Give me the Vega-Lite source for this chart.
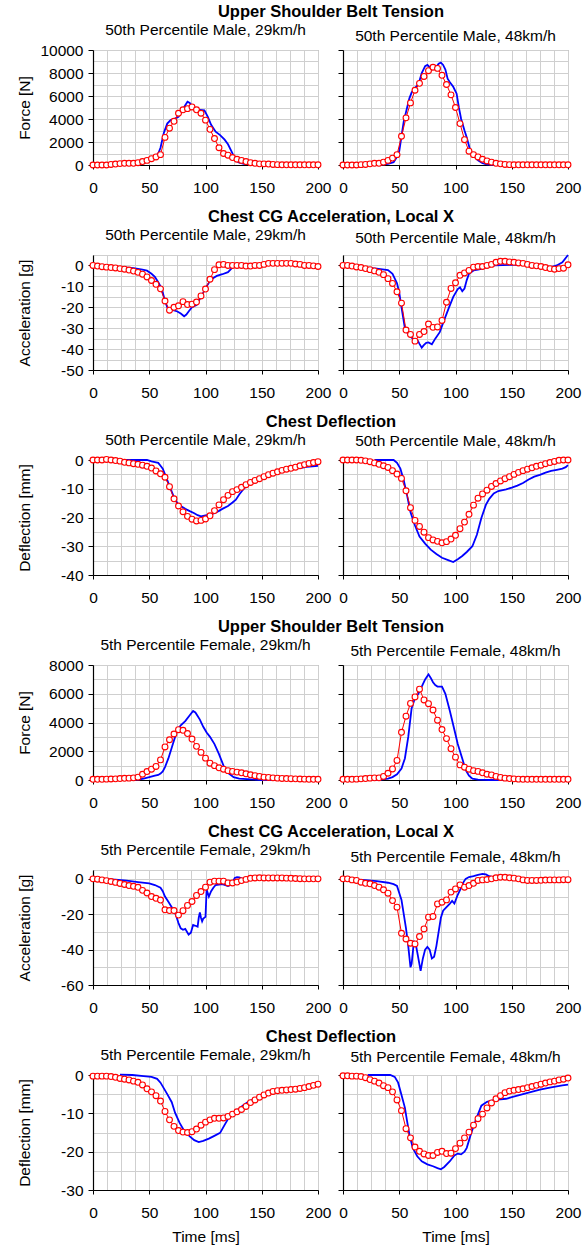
{
"$schema": "https://vega.github.io/schema/vega-lite/v6.json",
"padding": {"left": 16, "top": 3, "right": 4, "bottom": 2},
"datasets": {
"r1aT": [{"t":0,"v":0},{"t":20,"v":0},{"t":40,"v":50},{"t":50,"v":300},{"t":55,"v":700},{"t":58,"v":1000},{"t":60,"v":1500},{"t":63,"v":2800},{"t":66,"v":3600},{"t":69,"v":3900},{"t":72,"v":4000},{"t":76,"v":4200},{"t":79,"v":4700},{"t":82,"v":5200},{"t":84,"v":5500},{"t":86,"v":5400},{"t":89,"v":5000},{"t":91,"v":4800},{"t":95,"v":4800},{"t":99,"v":4750},{"t":102,"v":4200},{"t":105,"v":3500},{"t":109,"v":2900},{"t":113,"v":2600},{"t":117,"v":2200},{"t":120,"v":1800},{"t":123,"v":1200},{"t":126,"v":600},{"t":129,"v":250},{"t":134,"v":100},{"t":140,"v":50},{"t":150,"v":0},{"t":200,"v":0}],
"r1aS": [{"t":0,"v":0},{"t":4,"v":0},{"t":8,"v":0},{"t":12,"v":0},{"t":16,"v":50},{"t":20,"v":80},{"t":24,"v":120},{"t":28,"v":150},{"t":32,"v":150},{"t":36,"v":150},{"t":40,"v":200},{"t":44,"v":300},{"t":48,"v":400},{"t":52,"v":550},{"t":56,"v":700},{"t":60,"v":900},{"t":64,"v":2400},{"t":68,"v":3200},{"t":72,"v":3800},{"t":76,"v":4500},{"t":80,"v":4800},{"t":84,"v":4900},{"t":88,"v":5050},{"t":92,"v":4800},{"t":96,"v":4500},{"t":100,"v":3900},{"t":104,"v":3100},{"t":108,"v":2300},{"t":112,"v":1500},{"t":116,"v":1000},{"t":120,"v":850},{"t":124,"v":650},{"t":128,"v":500},{"t":132,"v":400},{"t":136,"v":300},{"t":140,"v":200},{"t":144,"v":150},{"t":148,"v":100},{"t":152,"v":100},{"t":156,"v":80},{"t":160,"v":50},{"t":164,"v":30},{"t":168,"v":20},{"t":172,"v":20},{"t":176,"v":20},{"t":180,"v":20},{"t":184,"v":20},{"t":188,"v":20},{"t":192,"v":20},{"t":196,"v":20},{"t":200,"v":20}],
"r1bT": [{"t":0,"v":0},{"t":30,"v":0},{"t":40,"v":100},{"t":45,"v":250},{"t":48,"v":700},{"t":50,"v":1200},{"t":52,"v":2500},{"t":54,"v":3800},{"t":57,"v":5000},{"t":59,"v":5800},{"t":61,"v":6300},{"t":64,"v":6700},{"t":67,"v":7000},{"t":70,"v":8000},{"t":73,"v":8600},{"t":75,"v":8700},{"t":77,"v":8500},{"t":79,"v":8300},{"t":82,"v":8400},{"t":85,"v":8800},{"t":87,"v":8900},{"t":89,"v":8700},{"t":91,"v":8300},{"t":93,"v":7500},{"t":95,"v":7200},{"t":98,"v":6800},{"t":101,"v":6200},{"t":103,"v":5000},{"t":105,"v":4000},{"t":108,"v":3000},{"t":110,"v":2400},{"t":113,"v":1300},{"t":116,"v":800},{"t":120,"v":400},{"t":124,"v":150},{"t":128,"v":50},{"t":135,"v":0},{"t":200,"v":0}],
"r1bS": [{"t":0,"v":0},{"t":4,"v":0},{"t":8,"v":0},{"t":12,"v":0},{"t":16,"v":30},{"t":20,"v":50},{"t":24,"v":100},{"t":28,"v":150},{"t":32,"v":150},{"t":36,"v":250},{"t":40,"v":400},{"t":44,"v":600},{"t":48,"v":900},{"t":52,"v":2500},{"t":56,"v":4100},{"t":60,"v":5400},{"t":64,"v":6500},{"t":68,"v":7100},{"t":72,"v":7700},{"t":76,"v":8200},{"t":80,"v":8500},{"t":84,"v":8400},{"t":88,"v":7800},{"t":92,"v":7000},{"t":96,"v":6100},{"t":100,"v":5000},{"t":104,"v":3600},{"t":108,"v":2200},{"t":112,"v":1200},{"t":116,"v":900},{"t":120,"v":700},{"t":124,"v":500},{"t":128,"v":350},{"t":132,"v":250},{"t":136,"v":150},{"t":140,"v":100},{"t":144,"v":50},{"t":148,"v":30},{"t":152,"v":20},{"t":156,"v":20},{"t":160,"v":20},{"t":164,"v":20},{"t":168,"v":20},{"t":172,"v":20},{"t":176,"v":20},{"t":180,"v":20},{"t":184,"v":20},{"t":188,"v":20},{"t":192,"v":20},{"t":196,"v":20},{"t":200,"v":20}],
"r2aT": [{"t":0,"v":0},{"t":10,"v":-0.3},{"t":20,"v":-0.6},{"t":30,"v":-1},{"t":36,"v":-1.3},{"t":40,"v":-1.6},{"t":44,"v":-2},{"t":48,"v":-2.5},{"t":52,"v":-4},{"t":55,"v":-5.5},{"t":58,"v":-8},{"t":60,"v":-10},{"t":62,"v":-13},{"t":64,"v":-17},{"t":66,"v":-20},{"t":68,"v":-21},{"t":72,"v":-21.5},{"t":75,"v":-22},{"t":78,"v":-23},{"t":81,"v":-24.3},{"t":83,"v":-23.5},{"t":85,"v":-22},{"t":88,"v":-20},{"t":92,"v":-19},{"t":95,"v":-16},{"t":98,"v":-13},{"t":101,"v":-10},{"t":104,"v":-7.5},{"t":107,"v":-6},{"t":110,"v":-5},{"t":115,"v":-4.2},{"t":120,"v":-3.2},{"t":123,"v":-1.5},{"t":126,"v":0},{"t":130,"v":0.2},{"t":150,"v":0.3},{"t":170,"v":0.5},{"t":185,"v":0.3},{"t":200,"v":0}],
"r2aS": [{"t":0,"v":0},{"t":4,"v":-0.3},{"t":8,"v":-0.6},{"t":12,"v":-0.8},{"t":16,"v":-1},{"t":20,"v":-1.2},{"t":24,"v":-1.5},{"t":28,"v":-1.8},{"t":32,"v":-2.2},{"t":36,"v":-2.7},{"t":40,"v":-3.3},{"t":44,"v":-4.2},{"t":48,"v":-5.5},{"t":52,"v":-7.2},{"t":56,"v":-9},{"t":60,"v":-11.2},{"t":64,"v":-17},{"t":68,"v":-21.4},{"t":72,"v":-20},{"t":76,"v":-19.3},{"t":80,"v":-17.3},{"t":84,"v":-18.7},{"t":88,"v":-18.5},{"t":92,"v":-17.5},{"t":96,"v":-14.6},{"t":100,"v":-11.3},{"t":104,"v":-6.6},{"t":108,"v":-2},{"t":112,"v":0.3},{"t":116,"v":0.5},{"t":120,"v":0},{"t":124,"v":0},{"t":128,"v":0},{"t":132,"v":0},{"t":136,"v":-0.3},{"t":140,"v":-0.3},{"t":144,"v":0},{"t":148,"v":0},{"t":152,"v":0.5},{"t":156,"v":1},{"t":160,"v":1},{"t":164,"v":1},{"t":168,"v":1},{"t":172,"v":1},{"t":176,"v":1},{"t":180,"v":0.7},{"t":184,"v":0.5},{"t":188,"v":0},{"t":192,"v":0},{"t":196,"v":-0.2},{"t":200,"v":-0.5}],
"r2bT": [{"t":0,"v":0},{"t":20,"v":-1},{"t":30,"v":-1.5},{"t":40,"v":-2.2},{"t":44,"v":-4},{"t":48,"v":-8.5},{"t":50,"v":-13},{"t":52,"v":-20},{"t":55,"v":-30},{"t":58,"v":-33},{"t":62,"v":-35},{"t":66,"v":-35.5},{"t":68,"v":-37.5},{"t":70,"v":-39.3},{"t":72,"v":-38},{"t":74,"v":-37},{"t":76,"v":-36.8},{"t":79,"v":-37.7},{"t":82,"v":-35},{"t":86,"v":-31.9},{"t":90,"v":-26},{"t":94,"v":-20.4},{"t":98,"v":-15},{"t":102,"v":-11.3},{"t":104,"v":-10.5},{"t":106,"v":-12.3},{"t":108,"v":-11},{"t":110,"v":-7},{"t":112,"v":-4},{"t":116,"v":-2.4},{"t":120,"v":-2},{"t":124,"v":-1.5},{"t":130,"v":-0.5},{"t":135,"v":0},{"t":150,"v":0.3},{"t":160,"v":0.3},{"t":170,"v":0},{"t":180,"v":-0.5},{"t":185,"v":-0.8},{"t":190,"v":0},{"t":195,"v":1.5},{"t":200,"v":5}],
"r2bS": [{"t":0,"v":0},{"t":4,"v":0},{"t":8,"v":-0.3},{"t":12,"v":-0.7},{"t":16,"v":-1},{"t":20,"v":-1.5},{"t":24,"v":-2},{"t":28,"v":-2.6},{"t":32,"v":-3.3},{"t":36,"v":-4.4},{"t":40,"v":-6.3},{"t":44,"v":-8.6},{"t":48,"v":-12.6},{"t":52,"v":-18},{"t":56,"v":-30.9},{"t":60,"v":-33},{"t":64,"v":-36.2},{"t":68,"v":-33},{"t":72,"v":-31.6},{"t":76,"v":-28},{"t":80,"v":-29.6},{"t":84,"v":-29.4},{"t":88,"v":-26.3},{"t":92,"v":-17.6},{"t":96,"v":-11},{"t":100,"v":-8.3},{"t":104,"v":-4.7},{"t":108,"v":-3.6},{"t":112,"v":-2.4},{"t":116,"v":-0.8},{"t":120,"v":-0.5},{"t":124,"v":-0.5},{"t":128,"v":0},{"t":132,"v":0.5},{"t":136,"v":1.5},{"t":140,"v":2},{"t":144,"v":2},{"t":148,"v":1.7},{"t":152,"v":1.5},{"t":156,"v":1.2},{"t":160,"v":1},{"t":164,"v":0.5},{"t":168,"v":0},{"t":172,"v":-0.2},{"t":176,"v":-0.5},{"t":180,"v":-1},{"t":184,"v":-1.5},{"t":188,"v":-1.8},{"t":192,"v":-1.5},{"t":196,"v":-1.3},{"t":200,"v":0.3}],
"r3aT": [{"t":25,"v":0},{"t":48,"v":0},{"t":52,"v":-0.5},{"t":56,"v":-0.8},{"t":58,"v":-1},{"t":60,"v":-2},{"t":62,"v":-3},{"t":64,"v":-5},{"t":66,"v":-7},{"t":69,"v":-10},{"t":72,"v":-13},{"t":75,"v":-15},{"t":78,"v":-16},{"t":82,"v":-17},{"t":86,"v":-17.8},{"t":90,"v":-18.5},{"t":93,"v":-19.2},{"t":96,"v":-19.6},{"t":100,"v":-19.3},{"t":104,"v":-19},{"t":108,"v":-18.5},{"t":112,"v":-17.7},{"t":115,"v":-17},{"t":120,"v":-16},{"t":124,"v":-14.8},{"t":127,"v":-13.8},{"t":130,"v":-12},{"t":134,"v":-10},{"t":137,"v":-8.8},{"t":140,"v":-8},{"t":145,"v":-7},{"t":150,"v":-6},{"t":155,"v":-5.3},{"t":160,"v":-4.7},{"t":165,"v":-4.2},{"t":170,"v":-3.7},{"t":175,"v":-3.4},{"t":180,"v":-3},{"t":185,"v":-2.7},{"t":190,"v":-2.4},{"t":195,"v":-2.2},{"t":200,"v":-2}],
"r3aS": [{"t":0,"v":0},{"t":4,"v":0},{"t":8,"v":0},{"t":12,"v":0.2},{"t":16,"v":0},{"t":20,"v":-0.2},{"t":24,"v":-0.4},{"t":28,"v":-0.8},{"t":32,"v":-1},{"t":36,"v":-1.3},{"t":40,"v":-1.5},{"t":44,"v":-1.8},{"t":48,"v":-2.2},{"t":52,"v":-2.8},{"t":56,"v":-3.8},{"t":60,"v":-4.8},{"t":64,"v":-6},{"t":68,"v":-9.3},{"t":72,"v":-13.5},{"t":76,"v":-16},{"t":80,"v":-18},{"t":84,"v":-19.6},{"t":88,"v":-20.6},{"t":92,"v":-21.2},{"t":96,"v":-21},{"t":100,"v":-20.5},{"t":104,"v":-19.4},{"t":108,"v":-17.6},{"t":112,"v":-15.6},{"t":116,"v":-13.8},{"t":120,"v":-12.3},{"t":124,"v":-11},{"t":128,"v":-10.3},{"t":132,"v":-9.5},{"t":136,"v":-8.6},{"t":140,"v":-7.8},{"t":144,"v":-7.1},{"t":148,"v":-6.5},{"t":152,"v":-5.8},{"t":156,"v":-5.1},{"t":160,"v":-4.6},{"t":164,"v":-4.1},{"t":168,"v":-3.6},{"t":172,"v":-3.2},{"t":176,"v":-2.9},{"t":180,"v":-2.5},{"t":184,"v":-2},{"t":188,"v":-1.6},{"t":192,"v":-1.2},{"t":196,"v":-0.9},{"t":200,"v":-0.6}],
"r3bT": [{"t":28,"v":0},{"t":45,"v":0},{"t":48,"v":-1},{"t":51,"v":-3},{"t":54,"v":-7},{"t":57,"v":-12.4},{"t":60,"v":-18.2},{"t":64,"v":-22.8},{"t":68,"v":-26.6},{"t":73,"v":-29.1},{"t":78,"v":-31.2},{"t":83,"v":-32.7},{"t":88,"v":-34},{"t":94,"v":-34.9},{"t":98,"v":-35.5},{"t":102,"v":-34.5},{"t":106,"v":-33.4},{"t":110,"v":-32},{"t":115,"v":-30},{"t":119,"v":-26},{"t":123,"v":-20.2},{"t":127,"v":-15.6},{"t":130,"v":-13.5},{"t":134,"v":-11.6},{"t":138,"v":-10.8},{"t":145,"v":-10.2},{"t":150,"v":-9.6},{"t":155,"v":-8.9},{"t":160,"v":-8},{"t":165,"v":-6.8},{"t":170,"v":-5.8},{"t":175,"v":-5.2},{"t":180,"v":-4.4},{"t":185,"v":-3.8},{"t":190,"v":-3.4},{"t":195,"v":-3},{"t":198,"v":-2.5},{"t":200,"v":-1.8}],
"r3bS": [{"t":0,"v":0},{"t":4,"v":0},{"t":8,"v":0},{"t":12,"v":0},{"t":16,"v":-0.1},{"t":20,"v":-0.3},{"t":24,"v":-0.6},{"t":28,"v":-1},{"t":32,"v":-1.5},{"t":36,"v":-2},{"t":40,"v":-2.6},{"t":44,"v":-3.7},{"t":48,"v":-4.9},{"t":52,"v":-6.4},{"t":56,"v":-10.7},{"t":60,"v":-16.6},{"t":64,"v":-21},{"t":68,"v":-23.1},{"t":72,"v":-25.1},{"t":76,"v":-27},{"t":80,"v":-27.8},{"t":84,"v":-28.3},{"t":88,"v":-28.8},{"t":92,"v":-28.4},{"t":96,"v":-27.5},{"t":100,"v":-26.2},{"t":104,"v":-23.9},{"t":108,"v":-21.6},{"t":112,"v":-18.9},{"t":116,"v":-15.7},{"t":120,"v":-13.3},{"t":124,"v":-11.8},{"t":128,"v":-10.5},{"t":132,"v":-9.2},{"t":136,"v":-8.2},{"t":140,"v":-7.3},{"t":144,"v":-6.5},{"t":148,"v":-5.8},{"t":152,"v":-5},{"t":156,"v":-4.3},{"t":160,"v":-3.7},{"t":164,"v":-3.2},{"t":168,"v":-2.7},{"t":172,"v":-2.2},{"t":176,"v":-1.8},{"t":180,"v":-1.3},{"t":184,"v":-0.9},{"t":188,"v":-0.5},{"t":192,"v":-0.1},{"t":196,"v":0},{"t":200,"v":0}],
"r4aT": [{"t":20,"v":0},{"t":40,"v":20},{"t":45,"v":100},{"t":50,"v":200},{"t":55,"v":300},{"t":58,"v":350},{"t":60,"v":450},{"t":62,"v":600},{"t":64,"v":900},{"t":67,"v":1500},{"t":69,"v":2000},{"t":71,"v":2500},{"t":73,"v":3000},{"t":75,"v":3500},{"t":78,"v":3800},{"t":82,"v":4100},{"t":86,"v":4500},{"t":89,"v":4800},{"t":91,"v":4700},{"t":93,"v":4450},{"t":95,"v":4200},{"t":98,"v":3700},{"t":101,"v":3300},{"t":104,"v":3000},{"t":108,"v":2500},{"t":112,"v":1800},{"t":116,"v":1000},{"t":120,"v":500},{"t":125,"v":200},{"t":130,"v":100},{"t":140,"v":50},{"t":150,"v":0},{"t":200,"v":0}],
"r4aS": [{"t":0,"v":50},{"t":4,"v":50},{"t":8,"v":50},{"t":12,"v":60},{"t":16,"v":70},{"t":20,"v":80},{"t":24,"v":100},{"t":28,"v":120},{"t":32,"v":130},{"t":36,"v":150},{"t":40,"v":200},{"t":44,"v":400},{"t":48,"v":590},{"t":52,"v":750},{"t":56,"v":940},{"t":60,"v":1400},{"t":64,"v":2300},{"t":68,"v":2800},{"t":72,"v":3200},{"t":76,"v":3500},{"t":80,"v":3460},{"t":84,"v":3230},{"t":88,"v":2850},{"t":92,"v":2340},{"t":96,"v":1920},{"t":100,"v":1520},{"t":104,"v":1170},{"t":108,"v":1000},{"t":112,"v":850},{"t":116,"v":750},{"t":120,"v":650},{"t":124,"v":600},{"t":128,"v":550},{"t":132,"v":500},{"t":136,"v":430},{"t":140,"v":360},{"t":144,"v":300},{"t":148,"v":250},{"t":152,"v":200},{"t":156,"v":180},{"t":160,"v":150},{"t":164,"v":130},{"t":168,"v":110},{"t":172,"v":100},{"t":176,"v":90},{"t":180,"v":80},{"t":184,"v":70},{"t":188,"v":60},{"t":192,"v":50},{"t":196,"v":50},{"t":200,"v":50}],
"r4bT": [{"t":20,"v":0},{"t":30,"v":0},{"t":40,"v":100},{"t":44,"v":200},{"t":48,"v":400},{"t":52,"v":800},{"t":55,"v":1500},{"t":58,"v":3000},{"t":61,"v":5000},{"t":64,"v":5700},{"t":67,"v":6000},{"t":70,"v":6500},{"t":73,"v":7000},{"t":76,"v":7350},{"t":78,"v":7100},{"t":80,"v":6800},{"t":82,"v":6600},{"t":84,"v":6500},{"t":88,"v":6500},{"t":91,"v":6000},{"t":95,"v":4800},{"t":99,"v":3500},{"t":102,"v":2500},{"t":106,"v":1500},{"t":109,"v":700},{"t":112,"v":300},{"t":115,"v":100},{"t":120,"v":30},{"t":130,"v":0},{"t":200,"v":0}],
"r4bS": [{"t":0,"v":50},{"t":4,"v":50},{"t":8,"v":50},{"t":12,"v":60},{"t":16,"v":80},{"t":20,"v":100},{"t":24,"v":130},{"t":28,"v":150},{"t":32,"v":150},{"t":36,"v":250},{"t":40,"v":470},{"t":44,"v":770},{"t":48,"v":1360},{"t":52,"v":3320},{"t":56,"v":4440},{"t":60,"v":5330},{"t":64,"v":5780},{"t":68,"v":6320},{"t":72,"v":5570},{"t":76,"v":5310},{"t":80,"v":4870},{"t":84,"v":4160},{"t":88,"v":3510},{"t":92,"v":2880},{"t":96,"v":2180},{"t":100,"v":1590},{"t":104,"v":1050},{"t":108,"v":890},{"t":112,"v":750},{"t":116,"v":650},{"t":120,"v":600},{"t":124,"v":500},{"t":128,"v":400},{"t":132,"v":350},{"t":136,"v":250},{"t":140,"v":180},{"t":144,"v":130},{"t":148,"v":100},{"t":152,"v":80},{"t":156,"v":60},{"t":160,"v":50},{"t":164,"v":50},{"t":168,"v":50},{"t":172,"v":50},{"t":176,"v":50},{"t":180,"v":50},{"t":184,"v":50},{"t":188,"v":50},{"t":192,"v":50},{"t":196,"v":50},{"t":200,"v":50}],
"r5aT": [{"t":0,"v":0},{"t":20,"v":-0.5},{"t":30,"v":-1},{"t":40,"v":-1.8},{"t":50,"v":-2.5},{"t":55,"v":-3.5},{"t":60,"v":-5},{"t":62,"v":-7},{"t":64,"v":-10},{"t":67,"v":-13},{"t":70,"v":-16},{"t":72,"v":-18},{"t":74,"v":-21},{"t":76,"v":-25},{"t":78,"v":-28},{"t":80,"v":-28.8},{"t":82,"v":-28.3},{"t":84,"v":-30.5},{"t":85,"v":-31.5},{"t":87,"v":-30.5},{"t":89,"v":-26},{"t":91,"v":-26.5},{"t":93,"v":-27},{"t":94,"v":-22},{"t":95,"v":-19},{"t":96,"v":-22},{"t":97,"v":-24},{"t":98,"v":-22.5},{"t":100,"v":-21.5},{"t":101,"v":-6},{"t":102,"v":-8},{"t":103,"v":-10},{"t":105,"v":-7},{"t":107,"v":-5},{"t":109,"v":-3.5},{"t":115,"v":-3},{"t":120,"v":-4},{"t":122,"v":-3.5},{"t":124,"v":-2},{"t":126,"v":0.5},{"t":128,"v":1},{"t":130,"v":0.8},{"t":133,"v":0},{"t":140,"v":0},{"t":200,"v":0}],
"r5aS": [{"t":0,"v":0},{"t":4,"v":-0.2},{"t":8,"v":-0.6},{"t":12,"v":-1},{"t":16,"v":-1.5},{"t":20,"v":-2},{"t":24,"v":-2.6},{"t":28,"v":-3.2},{"t":32,"v":-3.8},{"t":36,"v":-4.2},{"t":40,"v":-4.8},{"t":44,"v":-6.5},{"t":48,"v":-8},{"t":52,"v":-10},{"t":56,"v":-11},{"t":60,"v":-12},{"t":64,"v":-17.5},{"t":68,"v":-17.9},{"t":72,"v":-17.9},{"t":76,"v":-20.5},{"t":80,"v":-18},{"t":84,"v":-15},{"t":88,"v":-12.8},{"t":92,"v":-9.4},{"t":96,"v":-7.2},{"t":100,"v":-4.7},{"t":104,"v":-1.9},{"t":108,"v":-1.3},{"t":112,"v":-1.3},{"t":116,"v":-1.3},{"t":120,"v":-2.3},{"t":124,"v":-2.3},{"t":128,"v":-1.8},{"t":132,"v":-1},{"t":136,"v":-0.3},{"t":140,"v":0.3},{"t":144,"v":0.5},{"t":148,"v":0.6},{"t":152,"v":0.5},{"t":156,"v":0.5},{"t":160,"v":0.5},{"t":164,"v":0.5},{"t":168,"v":0.5},{"t":172,"v":0.4},{"t":176,"v":0.3},{"t":180,"v":0.2},{"t":184,"v":0.1},{"t":188,"v":0},{"t":192,"v":0},{"t":196,"v":0},{"t":200,"v":0}],
"r5bT": [{"t":0,"v":0},{"t":20,"v":-0.7},{"t":30,"v":-1.3},{"t":40,"v":-2.2},{"t":45,"v":-3},{"t":48,"v":-4},{"t":50,"v":-8},{"t":52,"v":-12},{"t":54,"v":-20},{"t":56,"v":-28},{"t":58,"v":-38},{"t":60,"v":-50},{"t":61,"v":-48},{"t":62,"v":-42},{"t":63,"v":-35},{"t":65,"v":-38},{"t":67,"v":-45},{"t":69,"v":-52},{"t":71,"v":-45},{"t":73,"v":-40},{"t":75,"v":-38.5},{"t":77,"v":-40},{"t":79,"v":-45},{"t":81,"v":-44},{"t":83,"v":-38},{"t":85,"v":-30},{"t":87,"v":-22},{"t":89,"v":-18},{"t":92,"v":-16},{"t":95,"v":-14},{"t":97,"v":-12.5},{"t":99,"v":-14},{"t":102,"v":-9},{"t":105,"v":-5},{"t":107,"v":-2},{"t":109,"v":0},{"t":112,"v":1},{"t":116,"v":1.5},{"t":120,"v":2.2},{"t":124,"v":2.8},{"t":127,"v":2.5},{"t":130,"v":1.5},{"t":135,"v":0.5},{"t":140,"v":0},{"t":150,"v":0},{"t":160,"v":-1},{"t":170,"v":-1.5},{"t":180,"v":-1.5},{"t":190,"v":-1.5}],
"r5bS": [{"t":0,"v":0},{"t":4,"v":0},{"t":8,"v":-0.6},{"t":12,"v":-0.9},{"t":16,"v":-1.9},{"t":20,"v":-2.5},{"t":24,"v":-2.8},{"t":28,"v":-3.8},{"t":32,"v":-4.7},{"t":36,"v":-6.2},{"t":40,"v":-8.1},{"t":44,"v":-12.3},{"t":48,"v":-16},{"t":52,"v":-30.8},{"t":56,"v":-34},{"t":60,"v":-36.4},{"t":64,"v":-36.8},{"t":68,"v":-32.6},{"t":72,"v":-28.3},{"t":76,"v":-21.7},{"t":80,"v":-21.3},{"t":84,"v":-14.2},{"t":88,"v":-13.2},{"t":92,"v":-11.9},{"t":96,"v":-7.5},{"t":100,"v":-5.7},{"t":104,"v":-3.4},{"t":108,"v":-4.7},{"t":112,"v":-3.8},{"t":116,"v":-2.5},{"t":120,"v":-0.9},{"t":124,"v":-0.6},{"t":128,"v":-0.4},{"t":132,"v":0},{"t":136,"v":0.6},{"t":140,"v":0.9},{"t":144,"v":0.9},{"t":148,"v":0.6},{"t":152,"v":0.4},{"t":156,"v":0},{"t":160,"v":-0.6},{"t":164,"v":-0.9},{"t":168,"v":-0.9},{"t":172,"v":-0.9},{"t":176,"v":-0.8},{"t":180,"v":-0.7},{"t":184,"v":-0.6},{"t":188,"v":-0.6},{"t":192,"v":-0.6},{"t":196,"v":-0.5},{"t":200,"v":-0.5}],
"r6aT": [{"t":24,"v":0.1},{"t":35,"v":0},{"t":45,"v":-0.3},{"t":52,"v":-0.5},{"t":57,"v":-1},{"t":60,"v":-2},{"t":63,"v":-3.5},{"t":66,"v":-5},{"t":70,"v":-7.1},{"t":73,"v":-9.9},{"t":77,"v":-12.5},{"t":81,"v":-14.5},{"t":86,"v":-16},{"t":90,"v":-17},{"t":94,"v":-17.5},{"t":98,"v":-17.2},{"t":103,"v":-16.6},{"t":107,"v":-16},{"t":113,"v":-15.1},{"t":117,"v":-13},{"t":121,"v":-11},{"t":127,"v":-9.5},{"t":133,"v":-8},{"t":138,"v":-7},{"t":145,"v":-6},{"t":150,"v":-5.2},{"t":160,"v":-4.5},{"t":170,"v":-4},{"t":180,"v":-3.7},{"t":190,"v":-3.3},{"t":200,"v":-2.8}],
"r6aS": [{"t":0,"v":-0.3},{"t":4,"v":-0.3},{"t":8,"v":-0.3},{"t":12,"v":-0.3},{"t":16,"v":-0.4},{"t":20,"v":-0.6},{"t":24,"v":-0.9},{"t":28,"v":-1.1},{"t":32,"v":-1.3},{"t":36,"v":-1.6},{"t":40,"v":-1.9},{"t":44,"v":-2.6},{"t":48,"v":-3.6},{"t":52,"v":-4.4},{"t":56,"v":-5.4},{"t":60,"v":-6.8},{"t":64,"v":-9.5},{"t":68,"v":-11.7},{"t":72,"v":-13.4},{"t":76,"v":-14.5},{"t":80,"v":-14.9},{"t":84,"v":-15},{"t":88,"v":-14.8},{"t":92,"v":-14.1},{"t":96,"v":-13.1},{"t":100,"v":-12.3},{"t":104,"v":-11.7},{"t":108,"v":-11.3},{"t":112,"v":-11.3},{"t":116,"v":-11.2},{"t":120,"v":-10.8},{"t":124,"v":-10.2},{"t":128,"v":-9.6},{"t":132,"v":-9},{"t":136,"v":-8.2},{"t":140,"v":-7.2},{"t":144,"v":-6.5},{"t":148,"v":-5.8},{"t":152,"v":-5.2},{"t":156,"v":-4.7},{"t":160,"v":-4.3},{"t":164,"v":-4.1},{"t":168,"v":-4},{"t":172,"v":-3.9},{"t":176,"v":-3.8},{"t":180,"v":-3.7},{"t":184,"v":-3.5},{"t":188,"v":-3.3},{"t":192,"v":-3},{"t":196,"v":-2.7},{"t":200,"v":-2.4}],
"r6bT": [{"t":22,"v":0},{"t":42,"v":0},{"t":46,"v":-0.5},{"t":49,"v":-2},{"t":52,"v":-5.2},{"t":55,"v":-8.5},{"t":57,"v":-12.1},{"t":59,"v":-15.5},{"t":62,"v":-19},{"t":66,"v":-21.2},{"t":70,"v":-22.5},{"t":75,"v":-23.3},{"t":80,"v":-23.8},{"t":84,"v":-24.3},{"t":87,"v":-24.6},{"t":90,"v":-24},{"t":95,"v":-22.5},{"t":99,"v":-21},{"t":102,"v":-20.5},{"t":105,"v":-20.7},{"t":108,"v":-20},{"t":110,"v":-19},{"t":114,"v":-15.1},{"t":119,"v":-11},{"t":123,"v":-8},{"t":128,"v":-7},{"t":135,"v":-6.5},{"t":145,"v":-6.2},{"t":150,"v":-5.8},{"t":160,"v":-5},{"t":165,"v":-4.6},{"t":175,"v":-3.8},{"t":185,"v":-3.2},{"t":195,"v":-2.7},{"t":200,"v":-2.5}],
"r6bS": [{"t":0,"v":-0.2},{"t":4,"v":-0.2},{"t":8,"v":-0.3},{"t":12,"v":-0.3},{"t":16,"v":-0.4},{"t":20,"v":-0.7},{"t":24,"v":-1.2},{"t":28,"v":-1.6},{"t":32,"v":-2.1},{"t":36,"v":-2.8},{"t":40,"v":-3.3},{"t":44,"v":-4.4},{"t":48,"v":-6.5},{"t":52,"v":-9.3},{"t":56,"v":-14},{"t":60,"v":-16.4},{"t":64,"v":-18.8},{"t":68,"v":-19.9},{"t":72,"v":-20.6},{"t":76,"v":-21},{"t":80,"v":-21},{"t":84,"v":-20.2},{"t":88,"v":-19.9},{"t":92,"v":-20.5},{"t":96,"v":-20.4},{"t":100,"v":-19.2},{"t":104,"v":-17.8},{"t":108,"v":-16.4},{"t":112,"v":-14.9},{"t":116,"v":-13.1},{"t":120,"v":-11.4},{"t":124,"v":-10.2},{"t":128,"v":-8.6},{"t":132,"v":-7.3},{"t":136,"v":-6.2},{"t":140,"v":-5.4},{"t":144,"v":-4.6},{"t":148,"v":-4.2},{"t":152,"v":-4},{"t":156,"v":-3.8},{"t":160,"v":-3.6},{"t":164,"v":-3.3},{"t":168,"v":-3},{"t":172,"v":-2.7},{"t":176,"v":-2.4},{"t":180,"v":-2.1},{"t":184,"v":-1.8},{"t":188,"v":-1.6},{"t":192,"v":-1.3},{"t":196,"v":-1.1},{"t":200,"v":-0.8}]
},
"vconcat": [
{"title": {"text": "Upper Shoulder Belt Tension", "fontWeight": "bold", "fontSize": 16.5, "offset": 2, "dx": 32}, "bounds": "flush", "spacing": 25, "hconcat": [
 {"width":225,"height":115,"title":"50th Percentile Male, 29km/h",
  "encoding":{"x":{"field":"t","type":"quantitative","scale":{"domain":[0,200],"nice":false},"axis":{"values":[0,12.5,25,37.5,50,62.5,75,87.5,100,112.5,125,137.5,150,162.5,175,187.5,200],"labelExpr":"datum.value % 50 === 0 ? '' + datum.value : ''","tickOpacity":{"condition":{"test":"datum.value % 50 === 0","value":1},"value":0},"title":null}},
   "y":{"field":"v","type":"quantitative","scale":{"domain":[0,10000],"nice":false,"zero":false},"axis":{"values":[0,1000,2000,3000,4000,5000,6000,7000,8000,9000,10000],"labelExpr":"datum.value % 2000 === 0 ? '' + datum.value : ''","tickOpacity":{"condition":{"test":"datum.value % 2000 === 0","value":1},"value":0},"title":"Force [N]","titleX":-61,"titleY":57.5}}},
  "layer":[{"data":{"name":"r1aT"},"mark":{"type":"line","color":"#0000ff","strokeWidth":1.8},"encoding":{}},
   {"data":{"name":"r1aS"},"mark":{"type":"line","color":"#ff0000","strokeWidth":1},"encoding":{}},
   {"data":{"name":"r1aS"},"mark":{"type":"point","shape":"circle","size":34,"filled":true,"fill":"#ffffff","stroke":"#ff0000","strokeWidth":1.1,"opacity":1},"encoding":{}}]},
 {"width":225,"height":115,"title":"50th Percentile Male, 48km/h",
  "encoding":{"x":{"field":"t","type":"quantitative","scale":{"domain":[0,200],"nice":false},"axis":{"values":[0,12.5,25,37.5,50,62.5,75,87.5,100,112.5,125,137.5,150,162.5,175,187.5,200],"labelExpr":"datum.value % 50 === 0 ? '' + datum.value : ''","tickOpacity":{"condition":{"test":"datum.value % 50 === 0","value":1},"value":0},"title":null}},
   "y":{"field":"v","type":"quantitative","scale":{"domain":[0,10000],"nice":false,"zero":false},"axis":{"values":[0,1000,2000,3000,4000,5000,6000,7000,8000,9000,10000],"labels":false,"tickOpacity":{"condition":{"test":"datum.value % 2000 === 0","value":1},"value":0},"title":null}}},
  "layer":[{"data":{"name":"r1bT"},"mark":{"type":"line","color":"#0000ff","strokeWidth":1.8},"encoding":{}},
   {"data":{"name":"r1bS"},"mark":{"type":"line","color":"#ff0000","strokeWidth":1},"encoding":{}},
   {"data":{"name":"r1bS"},"mark":{"type":"point","shape":"circle","size":34,"filled":true,"fill":"#ffffff","stroke":"#ff0000","strokeWidth":1.1,"opacity":1},"encoding":{}}]}
]},
{"title": {"text": "Chest CG Acceleration, Local X", "fontWeight": "bold", "fontSize": 16.5, "offset": 2, "dx": 32}, "bounds": "flush", "spacing": 25, "hconcat": [
 {"width":225,"height":115,"title":"50th Percentile Male, 29km/h",
  "encoding":{"x":{"field":"t","type":"quantitative","scale":{"domain":[0,200],"nice":false},"axis":{"values":[0,12.5,25,37.5,50,62.5,75,87.5,100,112.5,125,137.5,150,162.5,175,187.5,200],"labelExpr":"datum.value % 50 === 0 ? '' + datum.value : ''","tickOpacity":{"condition":{"test":"datum.value % 50 === 0","value":1},"value":0},"title":null}},
   "y":{"field":"v","type":"quantitative","scale":{"domain":[-50,5],"nice":false,"zero":false},"axis":{"values":[-50,-45,-40,-35,-30,-25,-20,-15,-10,-5,0,5],"labelExpr":"datum.value % 10 === 0 ? '' + datum.value : ''","tickOpacity":{"condition":{"test":"datum.value % 10 === 0","value":1},"value":0},"title":"Acceleration [g]","titleX":-61,"titleY":57.5}}},
  "layer":[{"data":{"name":"r2aT"},"mark":{"type":"line","color":"#0000ff","strokeWidth":1.8},"encoding":{}},
   {"data":{"name":"r2aS"},"mark":{"type":"line","color":"#ff0000","strokeWidth":1},"encoding":{}},
   {"data":{"name":"r2aS"},"mark":{"type":"point","shape":"circle","size":34,"filled":true,"fill":"#ffffff","stroke":"#ff0000","strokeWidth":1.1,"opacity":1},"encoding":{}}]},
 {"width":225,"height":115,"title":"50th Percentile Male, 48km/h",
  "encoding":{"x":{"field":"t","type":"quantitative","scale":{"domain":[0,200],"nice":false},"axis":{"values":[0,12.5,25,37.5,50,62.5,75,87.5,100,112.5,125,137.5,150,162.5,175,187.5,200],"labelExpr":"datum.value % 50 === 0 ? '' + datum.value : ''","tickOpacity":{"condition":{"test":"datum.value % 50 === 0","value":1},"value":0},"title":null}},
   "y":{"field":"v","type":"quantitative","scale":{"domain":[-50,5],"nice":false,"zero":false},"axis":{"values":[-50,-45,-40,-35,-30,-25,-20,-15,-10,-5,0,5],"labels":false,"tickOpacity":{"condition":{"test":"datum.value % 10 === 0","value":1},"value":0},"title":null}}},
  "layer":[{"data":{"name":"r2bT"},"mark":{"type":"line","color":"#0000ff","strokeWidth":1.8},"encoding":{}},
   {"data":{"name":"r2bS"},"mark":{"type":"line","color":"#ff0000","strokeWidth":1},"encoding":{}},
   {"data":{"name":"r2bS"},"mark":{"type":"point","shape":"circle","size":34,"filled":true,"fill":"#ffffff","stroke":"#ff0000","strokeWidth":1.1,"opacity":1},"encoding":{}}]}
]},
{"title": {"text": "Chest Deflection", "fontWeight": "bold", "fontSize": 16.5, "offset": 2, "dx": 32}, "bounds": "flush", "spacing": 25, "hconcat": [
 {"width":225,"height":115,"title":"50th Percentile Male, 29km/h",
  "encoding":{"x":{"field":"t","type":"quantitative","scale":{"domain":[0,200],"nice":false},"axis":{"values":[0,12.5,25,37.5,50,62.5,75,87.5,100,112.5,125,137.5,150,162.5,175,187.5,200],"labelExpr":"datum.value % 50 === 0 ? '' + datum.value : ''","tickOpacity":{"condition":{"test":"datum.value % 50 === 0","value":1},"value":0},"title":null}},
   "y":{"field":"v","type":"quantitative","scale":{"domain":[-40,0],"nice":false,"zero":false},"axis":{"values":[-40,-35,-30,-25,-20,-15,-10,-5,0],"labelExpr":"datum.value % 10 === 0 ? '' + datum.value : ''","tickOpacity":{"condition":{"test":"datum.value % 10 === 0","value":1},"value":0},"title":"Deflection [mm]","titleX":-61,"titleY":57.5}}},
  "layer":[{"data":{"name":"r3aT"},"mark":{"type":"line","color":"#0000ff","strokeWidth":1.8},"encoding":{}},
   {"data":{"name":"r3aS"},"mark":{"type":"line","color":"#ff0000","strokeWidth":1},"encoding":{}},
   {"data":{"name":"r3aS"},"mark":{"type":"point","shape":"circle","size":34,"filled":true,"fill":"#ffffff","stroke":"#ff0000","strokeWidth":1.1,"opacity":1},"encoding":{}}]},
 {"width":225,"height":115,"title":"50th Percentile Male, 48km/h",
  "encoding":{"x":{"field":"t","type":"quantitative","scale":{"domain":[0,200],"nice":false},"axis":{"values":[0,12.5,25,37.5,50,62.5,75,87.5,100,112.5,125,137.5,150,162.5,175,187.5,200],"labelExpr":"datum.value % 50 === 0 ? '' + datum.value : ''","tickOpacity":{"condition":{"test":"datum.value % 50 === 0","value":1},"value":0},"title":null}},
   "y":{"field":"v","type":"quantitative","scale":{"domain":[-40,0],"nice":false,"zero":false},"axis":{"values":[-40,-35,-30,-25,-20,-15,-10,-5,0],"labels":false,"tickOpacity":{"condition":{"test":"datum.value % 10 === 0","value":1},"value":0},"title":null}}},
  "layer":[{"data":{"name":"r3bT"},"mark":{"type":"line","color":"#0000ff","strokeWidth":1.8},"encoding":{}},
   {"data":{"name":"r3bS"},"mark":{"type":"line","color":"#ff0000","strokeWidth":1},"encoding":{}},
   {"data":{"name":"r3bS"},"mark":{"type":"point","shape":"circle","size":34,"filled":true,"fill":"#ffffff","stroke":"#ff0000","strokeWidth":1.1,"opacity":1},"encoding":{}}]}
]},
{"title": {"text": "Upper Shoulder Belt Tension", "fontWeight": "bold", "fontSize": 16.5, "offset": 2, "dx": 32}, "bounds": "flush", "spacing": 25, "hconcat": [
 {"width":225,"height":115,"title":"5th Percentile Female, 29km/h",
  "encoding":{"x":{"field":"t","type":"quantitative","scale":{"domain":[0,200],"nice":false},"axis":{"values":[0,12.5,25,37.5,50,62.5,75,87.5,100,112.5,125,137.5,150,162.5,175,187.5,200],"labelExpr":"datum.value % 50 === 0 ? '' + datum.value : ''","tickOpacity":{"condition":{"test":"datum.value % 50 === 0","value":1},"value":0},"title":null}},
   "y":{"field":"v","type":"quantitative","scale":{"domain":[0,8000],"nice":false,"zero":false},"axis":{"values":[0,1000,2000,3000,4000,5000,6000,7000,8000],"labelExpr":"datum.value % 2000 === 0 ? '' + datum.value : ''","tickOpacity":{"condition":{"test":"datum.value % 2000 === 0","value":1},"value":0},"title":"Force [N]","titleX":-61,"titleY":57.5}}},
  "layer":[{"data":{"name":"r4aT"},"mark":{"type":"line","color":"#0000ff","strokeWidth":1.8},"encoding":{}},
   {"data":{"name":"r4aS"},"mark":{"type":"line","color":"#ff0000","strokeWidth":1},"encoding":{}},
   {"data":{"name":"r4aS"},"mark":{"type":"point","shape":"circle","size":34,"filled":true,"fill":"#ffffff","stroke":"#ff0000","strokeWidth":1.1,"opacity":1},"encoding":{}}]},
 {"width":225,"height":115,"title":"5th Percentile Female, 48km/h",
  "encoding":{"x":{"field":"t","type":"quantitative","scale":{"domain":[0,200],"nice":false},"axis":{"values":[0,12.5,25,37.5,50,62.5,75,87.5,100,112.5,125,137.5,150,162.5,175,187.5,200],"labelExpr":"datum.value % 50 === 0 ? '' + datum.value : ''","tickOpacity":{"condition":{"test":"datum.value % 50 === 0","value":1},"value":0},"title":null}},
   "y":{"field":"v","type":"quantitative","scale":{"domain":[0,8000],"nice":false,"zero":false},"axis":{"values":[0,1000,2000,3000,4000,5000,6000,7000,8000],"labels":false,"tickOpacity":{"condition":{"test":"datum.value % 2000 === 0","value":1},"value":0},"title":null}}},
  "layer":[{"data":{"name":"r4bT"},"mark":{"type":"line","color":"#0000ff","strokeWidth":1.8},"encoding":{}},
   {"data":{"name":"r4bS"},"mark":{"type":"line","color":"#ff0000","strokeWidth":1},"encoding":{}},
   {"data":{"name":"r4bS"},"mark":{"type":"point","shape":"circle","size":34,"filled":true,"fill":"#ffffff","stroke":"#ff0000","strokeWidth":1.1,"opacity":1},"encoding":{}}]}
]},
{"title": {"text": "Chest CG Acceleration, Local X", "fontWeight": "bold", "fontSize": 16.5, "offset": 2, "dx": 32}, "bounds": "flush", "spacing": 25, "hconcat": [
 {"width":225,"height":115,"title":"5th Percentile Female, 29km/h",
  "encoding":{"x":{"field":"t","type":"quantitative","scale":{"domain":[0,200],"nice":false},"axis":{"values":[0,12.5,25,37.5,50,62.5,75,87.5,100,112.5,125,137.5,150,162.5,175,187.5,200],"labelExpr":"datum.value % 50 === 0 ? '' + datum.value : ''","tickOpacity":{"condition":{"test":"datum.value % 50 === 0","value":1},"value":0},"title":null}},
   "y":{"field":"v","type":"quantitative","scale":{"domain":[-60,5],"nice":false,"zero":false},"axis":{"values":[-60,-50,-40,-30,-20,-10,0,5],"labelExpr":"datum.value % 20 === 0 ? '' + datum.value : ''","tickOpacity":{"condition":{"test":"datum.value % 20 === 0","value":1},"value":0},"title":"Acceleration [g]","titleX":-61,"titleY":57.5}}},
  "layer":[{"data":{"name":"r5aT"},"mark":{"type":"line","color":"#0000ff","strokeWidth":1.8},"encoding":{}},
   {"data":{"name":"r5aS"},"mark":{"type":"line","color":"#ff0000","strokeWidth":1},"encoding":{}},
   {"data":{"name":"r5aS"},"mark":{"type":"point","shape":"circle","size":34,"filled":true,"fill":"#ffffff","stroke":"#ff0000","strokeWidth":1.1,"opacity":1},"encoding":{}}]},
 {"width":225,"height":115,"title":"5th Percentile Female, 48km/h",
  "encoding":{"x":{"field":"t","type":"quantitative","scale":{"domain":[0,200],"nice":false},"axis":{"values":[0,12.5,25,37.5,50,62.5,75,87.5,100,112.5,125,137.5,150,162.5,175,187.5,200],"labelExpr":"datum.value % 50 === 0 ? '' + datum.value : ''","tickOpacity":{"condition":{"test":"datum.value % 50 === 0","value":1},"value":0},"title":null}},
   "y":{"field":"v","type":"quantitative","scale":{"domain":[-60,5],"nice":false,"zero":false},"axis":{"values":[-60,-50,-40,-30,-20,-10,0,5],"labels":false,"tickOpacity":{"condition":{"test":"datum.value % 20 === 0","value":1},"value":0},"title":null}}},
  "layer":[{"data":{"name":"r5bT"},"mark":{"type":"line","color":"#0000ff","strokeWidth":1.8},"encoding":{}},
   {"data":{"name":"r5bS"},"mark":{"type":"line","color":"#ff0000","strokeWidth":1},"encoding":{}},
   {"data":{"name":"r5bS"},"mark":{"type":"point","shape":"circle","size":34,"filled":true,"fill":"#ffffff","stroke":"#ff0000","strokeWidth":1.1,"opacity":1},"encoding":{}}]}
]},
{"title": {"text": "Chest Deflection", "fontWeight": "bold", "fontSize": 16.5, "offset": 2, "dx": 32}, "bounds": "flush", "spacing": 25, "hconcat": [
 {"width":225,"height":115,"title":"5th Percentile Female, 29km/h",
  "encoding":{"x":{"field":"t","type":"quantitative","scale":{"domain":[0,200],"nice":false},"axis":{"values":[0,12.5,25,37.5,50,62.5,75,87.5,100,112.5,125,137.5,150,162.5,175,187.5,200],"labelExpr":"datum.value % 50 === 0 ? '' + datum.value : ''","tickOpacity":{"condition":{"test":"datum.value % 50 === 0","value":1},"value":0},"title":"Time [ms]"}},
   "y":{"field":"v","type":"quantitative","scale":{"domain":[-30,0],"nice":false,"zero":false},"axis":{"values":[-30,-25,-20,-15,-10,-5,0],"labelExpr":"datum.value % 10 === 0 ? '' + datum.value : ''","tickOpacity":{"condition":{"test":"datum.value % 10 === 0","value":1},"value":0},"title":"Deflection [mm]","titleX":-61,"titleY":57.5}}},
  "layer":[{"data":{"name":"r6aT"},"mark":{"type":"line","color":"#0000ff","strokeWidth":1.8},"encoding":{}},
   {"data":{"name":"r6aS"},"mark":{"type":"line","color":"#ff0000","strokeWidth":1},"encoding":{}},
   {"data":{"name":"r6aS"},"mark":{"type":"point","shape":"circle","size":34,"filled":true,"fill":"#ffffff","stroke":"#ff0000","strokeWidth":1.1,"opacity":1},"encoding":{}}]},
 {"width":225,"height":115,"title":"5th Percentile Female, 48km/h",
  "encoding":{"x":{"field":"t","type":"quantitative","scale":{"domain":[0,200],"nice":false},"axis":{"values":[0,12.5,25,37.5,50,62.5,75,87.5,100,112.5,125,137.5,150,162.5,175,187.5,200],"labelExpr":"datum.value % 50 === 0 ? '' + datum.value : ''","tickOpacity":{"condition":{"test":"datum.value % 50 === 0","value":1},"value":0},"title":"Time [ms]"}},
   "y":{"field":"v","type":"quantitative","scale":{"domain":[-30,0],"nice":false,"zero":false},"axis":{"values":[-30,-25,-20,-15,-10,-5,0],"labels":false,"tickOpacity":{"condition":{"test":"datum.value % 10 === 0","value":1},"value":0},"title":null}}},
  "layer":[{"data":{"name":"r6bT"},"mark":{"type":"line","color":"#0000ff","strokeWidth":1.8},"encoding":{}},
   {"data":{"name":"r6bS"},"mark":{"type":"line","color":"#ff0000","strokeWidth":1},"encoding":{}},
   {"data":{"name":"r6bS"},"mark":{"type":"point","shape":"circle","size":34,"filled":true,"fill":"#ffffff","stroke":"#ff0000","strokeWidth":1.1,"opacity":1},"encoding":{}}]}
]}
],
"spacing": 12,
"config": {
 "font": "Liberation Sans",
 "view": {"stroke": "#9a9a9a", "strokeWidth": 1},
 "title": {"font": "Liberation Sans", "fontSize": 15.5, "fontWeight": "normal", "color": "#000000", "offset": 5, "anchor": "middle"},
 "axis": {"labelFont": "Liberation Sans", "labelFontSize": 15.5, "labelColor": "#000000", "titleFont": "Liberation Sans", "titleFontSize": 15.5, "titleFontWeight": "normal", "titleColor": "#000000", "domainColor": "#000000", "domainWidth": 1.2, "tickColor": "#000000", "gridColor": "#cfcfcf", "gridWidth": 1, "labelOverlap": false, "labelFlush": false},
 "axisX": {"tickSize": 4, "labelPadding": 11, "titlePadding": 9},
 "axisY": {"tickSize": 5, "labelPadding": 5}
}
}
